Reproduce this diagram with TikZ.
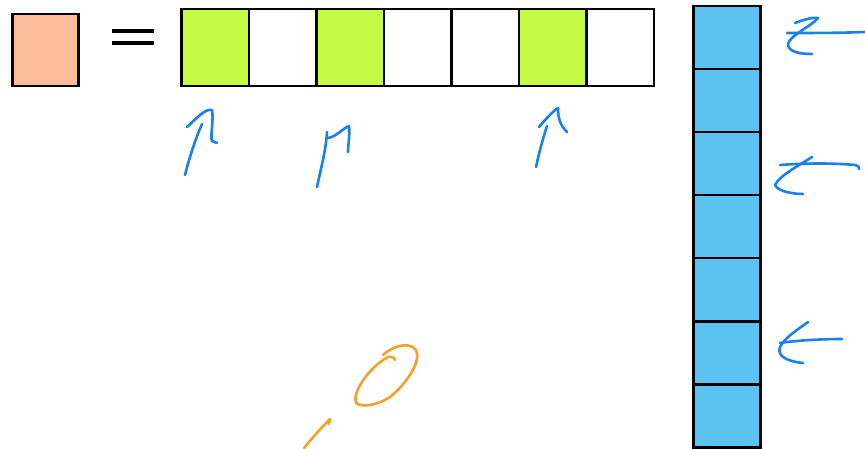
\documentclass[tikz,border=0pt]{standalone}
\definecolor{salmon}{HTML}{FDBC9A}
\definecolor{lime}{HTML}{C6FA45}
\definecolor{sky}{HTML}{5BC2F2}
\definecolor{pen}{HTML}{1A7FF0}
\definecolor{orng}{HTML}{F4A02C}
\begin{document}
\begin{tikzpicture}[x=1pt,y=-1pt,
  cellbox/.style={draw=black,line width=2.5pt,inner sep=0pt,anchor=north west},
  ink/.style={draw=pen,line width=2.6pt,line cap=round,line join=round},
  oink/.style={draw=orng,line width=2.6pt,line cap=round,line join=round}]
\useasboundingbox (0,0) rectangle (865,449);
% salmon square
\node[cellbox,fill=salmon,minimum width=66pt,minimum height=72pt] (s) at (11,13) {};
% equals sign
\coordinate (e1) at (112,31); \coordinate (e2) at (154,31);
\coordinate (e3) at (112,43); \coordinate (e4) at (154,43);
\draw[line width=3.6pt] (e1) -- (e2);
\draw[line width=3.6pt] (e3) -- (e4);
% row of cells
\foreach \i/\c in {0/lime,1/white,2/lime,3/white,4/white,5/lime,6/white}{
  \node[cellbox,fill=\c,minimum width=67.57pt,minimum height=77pt] (r\i) at ({180+67.57*\i},8) {};
}
% column of cells
\foreach \j in {0,...,6}{
  \node[cellbox,fill=sky,minimum width=67pt,minimum height=63pt] (c\j) at (692,{5+63*\j}) {};
}
% hand-drawn arrows under row
\draw[ink] (185,175) .. controls (190,155) and (197,135) .. (202,124);
\draw[ink] (187,127) .. controls (195,120) and (205,108) .. (212,110) .. controls (214,120) and (210,135) .. (212,141) -- (217,143);
\draw[ink] (317,187) .. controls (321,168) and (326,150) .. (327,132);
\draw[ink] (327,138) .. controls (335,138) and (343,128) .. (349,126) .. controls (350,135) and (348,145) .. (348,152);
\draw[ink] (536,167) .. controls (539,153) and (543,138) .. (547,126);
\draw[ink] (539,127) .. controls (545,120) and (552,112) .. (558,108) .. controls (558,118) and (560,125) .. (567,132);
% hand-drawn arrows beside column
\draw[ink] (865,32) .. controls (840,33) and (810,33) .. (787,33);
\draw[ink] (795,23) .. controls (803,20) and (812,17) .. (818,18) .. controls (812,26) and (790,35) .. (788,44) .. controls (788,52) and (800,54) .. (812,54);
\draw[ink] (780,165) .. controls (805,163) and (835,163) .. (855,165) .. controls (859,166) and (860,168) .. (859,169);
\draw[ink] (812,157) .. controls (800,165) and (780,175) .. (775,185) .. controls (778,192) and (795,194) .. (803,194);
\draw[ink] (780,343) .. controls (800,340) and (825,339) .. (842,339);
\draw[ink] (808,322) .. controls (800,328) and (785,337) .. (780,347) .. controls (776,358) and (792,362) .. (803,363);
% orange scribbles
\draw[oink] (383,355) .. controls (390,348) and (408,340) .. (416,350) .. controls (422,362) and (405,385) .. (390,397) .. controls (378,405) and (362,408) .. (356,403) .. controls (352,393) and (368,368) .. (388,357) .. controls (392,356) and (395,358) .. (395,360);
\draw[oink] (304,448) .. controls (312,438) and (322,427) .. (330,419) -- (329,424);
\end{tikzpicture}
\end{document}
